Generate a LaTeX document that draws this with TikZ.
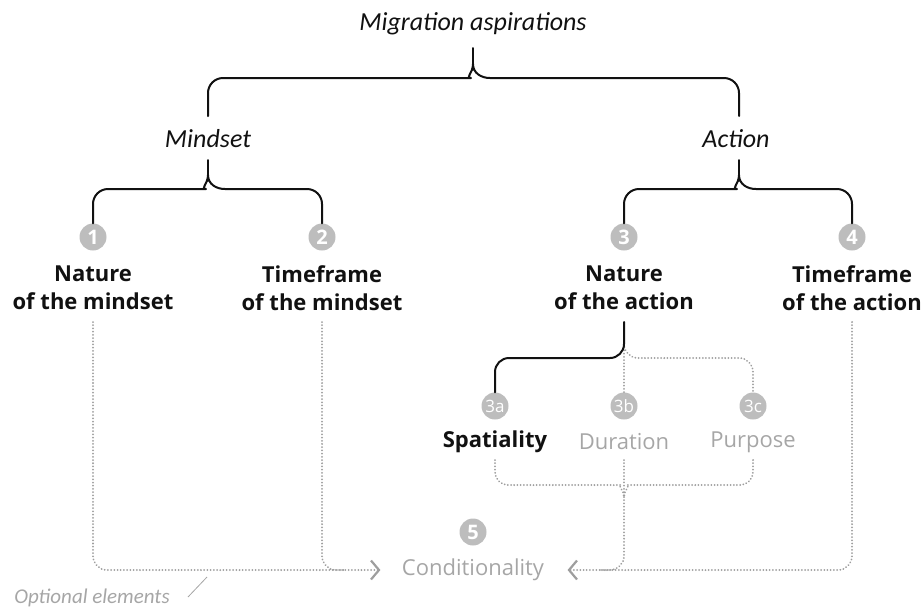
\documentclass[tikz,border=0pt]{standalone}
\usepackage{fontspec}
\setmainfont{Open Sans}
\newfontfamily\hfont{Carlito}
\usetikzlibrary{arrows.meta,calc}
\definecolor{blk}{HTML}{111111}
\definecolor{gry}{HTML}{9E9E9E}
\definecolor{tgry}{HTML}{A6A6A6}
\definecolor{cgry}{HTML}{BDBDBD}
\begin{document}
\begin{tikzpicture}[x=1pt,y=-1pt,
  blkline/.style={draw=blk, line width=2pt, line cap=round, line join=round},
  dotline/.style={draw=gry, line width=2pt, dash pattern=on 0.01pt off 3.2pt, line cap=round},
  numc/.style={circle, fill=cgry, text=white, minimum size=27pt, inner sep=0pt, font=\fontsize{20}{20}\selectfont\bfseries},
  numcs/.style={numc, font=\fontsize{17}{17}\selectfont},
  lab/.style={font=\fontsize{22}{28}\selectfont\bfseries, align=center, text=blk},
  glab/.style={font=\fontsize{22}{28}\selectfont, align=center, text=tgry},
  head/.style={font=\hfont\itshape\fontsize{26}{26}\selectfont, text=blk},
  barb/.style={-{Straight Barb[length=8pt,width=19pt,line width=2.2pt]}}
]
\useasboundingbox (0,0) rectangle (924,611);

% headings
\node[head] (mig) at (473,24) {Migration aspirations};
\node[head] (mind) at (208,139) {Mindset};
\node[head] (act) at (736,139) {Action};

% numbered circles
\node[numc] (c1) at (93,237) {1};
\node[numc] (c2) at (322,237) {2};
\node[numc] (c3) at (624,237) {3};
\node[numc] (c4) at (852,237) {4};
\node[numcs] (c3a) at (495,406) {3a};
\node[numcs] (c3b) at (624,406) {3b};
\node[numcs] (c3c) at (753,406) {3c};
\node[numc] (c5) at (473,532) {5};

% labels
\node[lab] (l1) at (93,288) {Nature\\of the mindset};
\node[lab] (l2) at (322,288) {Timeframe\\of the mindset};
\node[lab] (l3) at (624,288) {Nature\\of the action};
\node[lab] (l4) at (852,288) {Timeframe\\of the action};
\node[lab] (sp) at (495,442) {Spatiality};
\node[glab] (du) at (624,442) {Duration};
\node[glab] (pu) at (753,442) {Purpose};
\node[glab] (co) at (473,570) {Conditionality};
\node[font=\hfont\itshape\fontsize{21}{21}\selectfont, text=tgry] (opt) at (92,598) {Optional elements};

% top brace
\draw[blkline, rounded corners=15] (208,116) |- (456,78) [sharp corners] .. controls (465,78) and (473,73) .. (473,64)
      .. controls (473,73) and (481,78) .. (490,78) [rounded corners=15] -| (739,116);
\draw[blkline] (473,48) -- (473,70);

% mindset brace
\draw[blkline, rounded corners=15] (c1.north) |- (191,189) [sharp corners] .. controls (200,189) and (208,184) .. (208,175)
      .. controls (208,184) and (216,189) .. (225,189) [rounded corners=15] -| (c2.north);
\draw[blkline] (208,160) -- (208,181);

% action brace
\draw[blkline, rounded corners=15] (c3.north) |- (722,189) [sharp corners] .. controls (731,189) and (739,184) .. (739,175)
      .. controls (739,184) and (747,189) .. (756,189) [rounded corners=15] -| (c4.north);
\draw[blkline] (739,160) -- (739,181);

% nature of the action -> sub elements
\draw[dotline] (624,344) -- (c3b.north);
\draw[dotline, rounded corners=14] (624,344) |- (753,358) -- (c3c.north);
\draw[blkline, rounded corners=14] (624,322) |- (495,358) -- (c3a.north);

% lower dotted brace
\draw[dotline, rounded corners=13] (495,460) |- (608,485) [sharp corners] .. controls (617,485) and (624,490) .. (624,497);
\draw[dotline, rounded corners=13] (753,460) |- (640,485) [sharp corners] .. controls (631,485) and (624,490) .. (624,497);
\draw[dotline] (624,460) -- (624,497);
\coordinate (tipb) at (624,497);

% conditionality connectors
\coordinate (arrL) at ($(co.west)+(-18,0)$);
\coordinate (arrR) at ($(co.east)+(20,0)$);
\draw[dotline, rounded corners=14, barb] (93,322) |- (arrL);
\draw[dotline, rounded corners=14] (322,322) |- (345,570);
\draw[dotline, rounded corners=14, barb] (852,322) |- (arrR);
\draw[dotline, rounded corners=14] (tipb) |- (600,570);

% optional elements mark
\coordinate (s1) at (188,597);
\coordinate (s2) at (207,577);
\draw[tgry, line width=0.8pt] (s1) -- (s2);
\end{tikzpicture}
\end{document}
